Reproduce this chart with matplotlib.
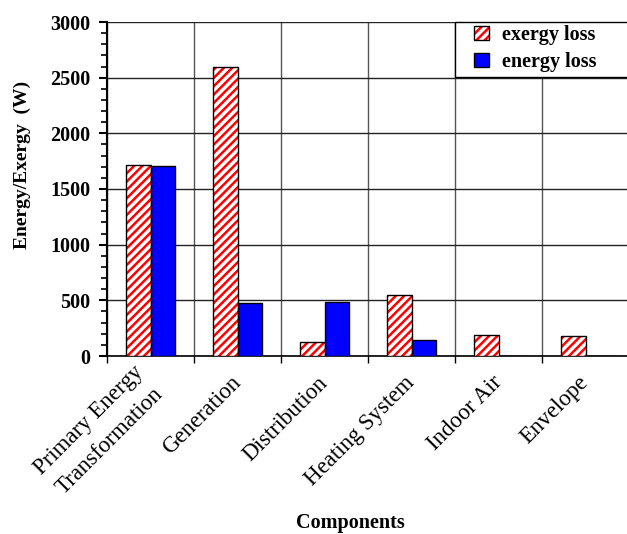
import numpy as np
import matplotlib
matplotlib.use("Agg")
import matplotlib.pyplot as plt
from matplotlib.ticker import MultipleLocator, FixedLocator

# datos
componentes = ["Primary Energy\nTransformation", "Generation", "Distribution",
               "Heating System", "Indoor Air", "Envelope"]
exergia = [1720, 2595, 124, 545, 188, 179]
energia = [1710, 475, 484, 142, 0, 0]

plt.rcParams['font.family'] = ['Liberation Serif', 'DejaVu Serif']
plt.rcParams['hatch.linewidth'] = 1.8

fig = plt.figure(figsize=(6.27, 5.34), dpi=100)
ax = fig.add_axes([107 / 627, 1 - 356 / 534, 522 / 627, 334 / 534])

x = np.arange(len(componentes))
ancho = 0.287
# rayado rojo (el color del rayado sigue al borde) y luego el borde negro encima
ax.bar(x - ancho / 2, exergia, ancho, facecolor='white', edgecolor='red',
       hatch='////', linewidth=0, zorder=3)
ax.bar(x - ancho / 2, exergia, ancho, facecolor='none', edgecolor='black',
       linewidth=1.0, zorder=4)
ax.bar(x + ancho / 2, energia, ancho, color='#0000ff', edgecolor='black',
       linewidth=1.0, zorder=3)

# handles de la leyenda
h1 = plt.Rectangle((0, 0), 1, 1, facecolor='white', edgecolor='red', hatch='////',
                   linewidth=0)
h1b = plt.Rectangle((0, 0), 1, 1, facecolor='none', edgecolor='black', linewidth=1.0)
h2 = plt.Rectangle((0, 0), 1, 1, facecolor='#0000ff', edgecolor='black', linewidth=1.0)

ax.set_xlim(-0.5, len(componentes) - 0.5)
ax.set_ylim(0, 3000)
ax.yaxis.set_major_locator(MultipleLocator(500))
ax.yaxis.set_minor_locator(MultipleLocator(100))
ax.xaxis.set_major_locator(FixedLocator(x))
ax.xaxis.set_minor_locator(FixedLocator(np.arange(-0.5, len(componentes), 1.0)))

ax.grid(True, which='major', axis='y', color='#222222', linewidth=1.0, zorder=0)
ax.grid(True, which='minor', axis='x', color='#555555', linewidth=1.0, zorder=0)

for s in ['top', 'right']:
    ax.spines[s].set_visible(False)
ax.spines['left'].set_linewidth(1.5)
ax.spines['bottom'].set_linewidth(1.2)

ax.tick_params(axis='y', which='major', length=6, width=1.5, direction='out',
               labelsize=14.5, pad=6)
ax.tick_params(axis='y', which='minor', length=4, width=1.2, direction='out')
ax.tick_params(axis='x', which='major', length=0, pad=17)
ax.tick_params(axis='x', which='minor', length=5, width=1.0, direction='out')

for t in ax.get_yticklabels():
    t.set_fontweight('bold')

ax.set_xticklabels(componentes, rotation=45, ha='right', va='center',
                   rotation_mode='anchor', fontsize=16.5, multialignment='center',
                   linespacing=1.5)

# caja de la leyenda dibujada a mano (relleno lateral mayor que el vertical)
caja = plt.Rectangle(((455 - 107) / 522, (356 - 77) / 334), 0.4, (77 - 22) / 334,
                     transform=ax.transAxes, facecolor='white', edgecolor='black',
                     linewidth=1.0, clip_on=False, zorder=5)
ax.add_patch(caja)
leg = ax.legend([(h1, h1b), h2], ['exergy loss', 'energy loss'],
                loc='upper left', bbox_to_anchor=((474 - 107) / 522, (356 - 25) / 334),
                prop={'weight': 'bold', 'size': 14.5}, frameon=False,
                borderaxespad=0, borderpad=0, handlelength=0.75, handleheight=0.75,
                labelspacing=0.35, handletextpad=0.65)
leg.set_zorder(6)

fig.text(22 / 627, 1 - 165 / 534, "Energy/Exergy  (W)", rotation=90,
         ha='center', va='center', fontsize=14, fontweight='bold')
fig.text(350 / 627, 1 - 523 / 534, "Components", ha='center', va='center',
         fontsize=14.5, fontweight='bold')

fig.savefig("out.png", dpi=100)
